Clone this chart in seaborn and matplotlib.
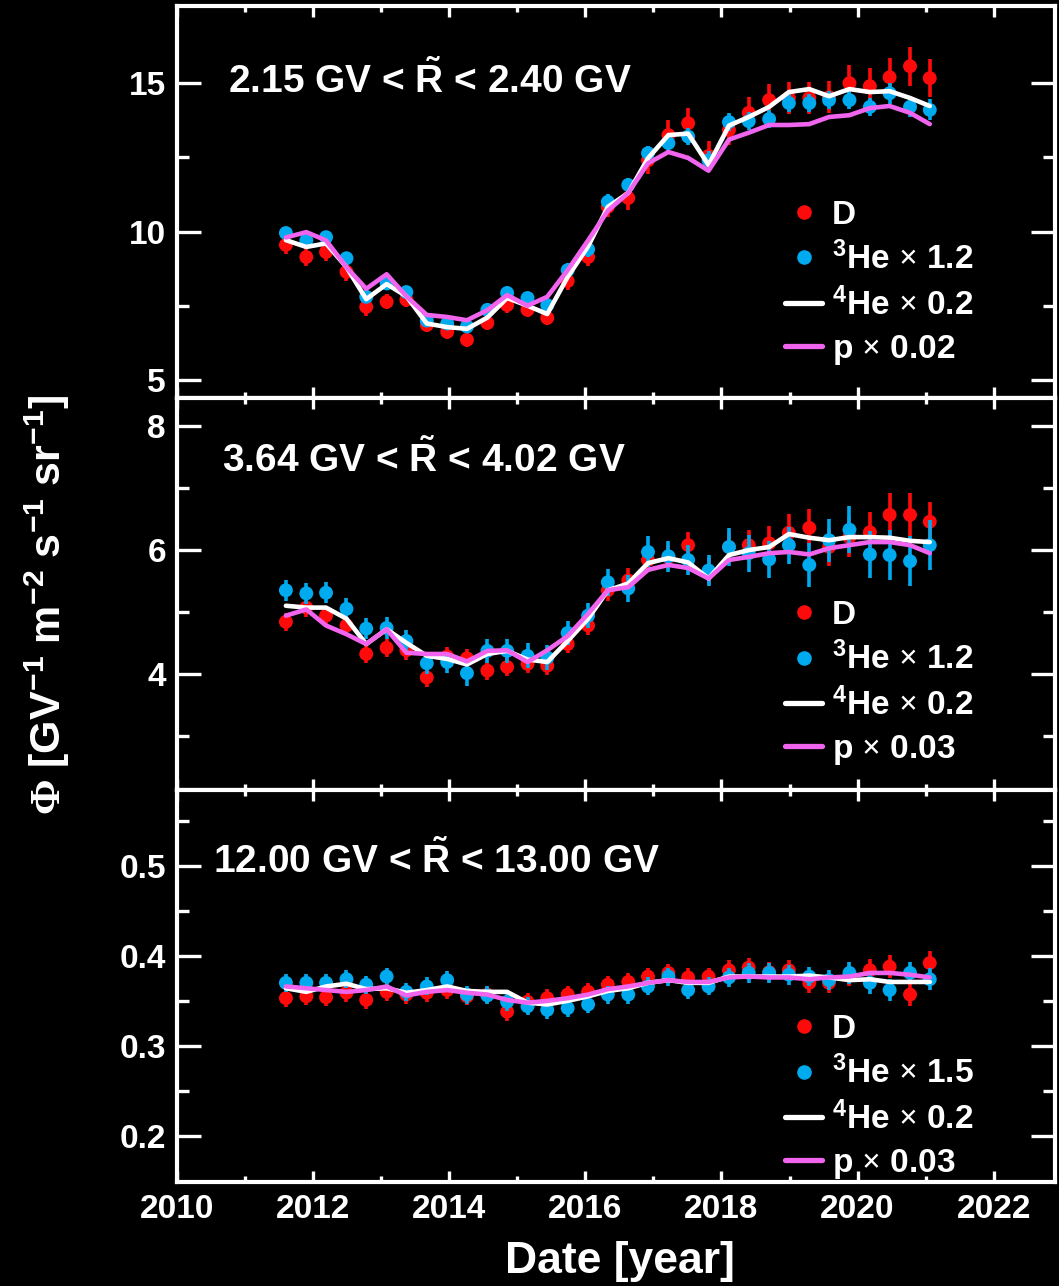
import numpy as np
import pandas as pd
import matplotlib
matplotlib.use("Agg")
import matplotlib.pyplot as plt
import seaborn as sns
from matplotlib.lines import Line2D
from matplotlib.ticker import FixedLocator, FixedFormatter

# ---------------- data ----------------
years = [2011.60, 2011.90, 2012.19, 2012.49, 2012.78, 2013.08, 2013.37, 2013.67,
         2013.97, 2014.26, 2014.56, 2014.85, 2015.15, 2015.44, 2015.74, 2016.04,
         2016.33, 2016.63, 2016.92, 2017.22, 2017.51, 2017.81, 2018.11, 2018.40,
         2018.70, 2018.99, 2019.29, 2019.58, 2019.88, 2020.18, 2020.47, 2020.77,
         2021.06]

# panel 1 : 2.15 - 2.40 GV
d1 = [9.55, 9.14, 9.31, 8.64, 7.46, 7.63, 7.70, 6.85, 6.62, 6.35, 6.92, 7.52, 7.36,
      7.09, 8.33, 9.14, 10.83, 11.13, 12.40, 13.25, 13.65, 12.55, 13.42, 14.00,
      14.43, 14.50, 14.50, 14.53, 15.00, 14.90, 15.20, 15.57, 15.17]
d1_err = [0.30, 0.30, 0.30, 0.30, 0.30, 0.25, 0.25, 0.25, 0.25, 0.25, 0.25, 0.25,
          0.25, 0.25, 0.30, 0.30, 0.35, 0.40, 0.45, 0.50, 0.50, 0.50, 0.50, 0.55,
          0.55, 0.55, 0.55, 0.55, 0.60, 0.60, 0.65, 0.65, 0.65]
he3_1 = [9.95, 9.70, 9.81, 9.10, 7.80, 8.25, 7.96, 7.00, 6.90, 6.80, 7.36, 7.93,
         7.76, 7.52, 8.70, 9.40, 11.00, 11.57, 12.64, 12.98, 13.20, 12.40, 13.69,
         13.72, 13.79, 14.33, 14.33, 14.43, 14.43, 14.20, 14.66, 14.20, 14.10]
he3_1_err = [0.20, 0.20, 0.20, 0.20, 0.20, 0.20, 0.20, 0.20, 0.20, 0.20, 0.20,
             0.20, 0.20, 0.20, 0.25, 0.25, 0.25, 0.25, 0.25, 0.30, 0.30, 0.30,
             0.30, 0.30, 0.30, 0.30, 0.30, 0.30, 0.30, 0.30, 0.35, 0.35, 0.35]
he4_1 = [9.71, 9.48, 9.60, 8.80, 7.72, 8.23, 7.82, 6.90, 6.78, 6.72, 7.10, 7.76,
         7.50, 7.22, 8.47, 9.50, 10.83, 11.30, 12.47, 13.25, 13.30, 12.24, 13.57,
         13.86, 14.20, 14.70, 14.80, 14.56, 14.80, 14.70, 14.73, 14.50, 14.23]
p_1 = [9.80, 9.98, 9.70, 8.80, 8.07, 8.56, 7.82, 7.19, 7.12, 7.01, 7.35, 7.86,
       7.50, 7.80, 8.70, 9.70, 10.70, 11.30, 12.30, 12.68, 12.48, 12.05, 13.10,
       13.33, 13.59, 13.59, 13.62, 13.86, 13.92, 14.16, 14.23, 14.00, 13.62]

# panel 2 : 3.64 - 4.02 GV
d2 = [4.84, 5.07, 4.94, 4.78, 4.32, 4.42, 4.38, 3.94, 4.28, 4.25, 4.05, 4.11, 4.16,
      4.13, 4.48, 4.78, 5.35, 5.51, 5.84, 5.89, 6.08, 5.65, 6.05, 6.08, 6.11, 6.28,
      6.36, 6.05, 6.21, 6.29, 6.57, 6.57, 6.46]
d2_err = [0.15, 0.15, 0.15, 0.15, 0.15, 0.15, 0.15, 0.15, 0.15, 0.15, 0.15, 0.15,
          0.15, 0.15, 0.15, 0.15, 0.18, 0.20, 0.20, 0.20, 0.22, 0.22, 0.25, 0.25,
          0.28, 0.30, 0.30, 0.30, 0.32, 0.32, 0.35, 0.35, 0.32]
he3_2 = [5.35, 5.30, 5.31, 5.05, 4.73, 4.74, 4.53, 4.17, 4.19, 4.01, 4.37, 4.37,
         4.29, 4.26, 4.66, 4.94, 5.48, 5.38, 5.97, 5.90, 5.84, 5.67, 6.05, 5.95,
         5.85, 6.08, 5.76, 6.16, 6.33, 5.93, 5.92, 5.82, 6.08]
he3_2_err = [0.17, 0.17, 0.17, 0.17, 0.17, 0.17, 0.17, 0.17, 0.17, 0.20, 0.20,
             0.20, 0.20, 0.20, 0.20, 0.20, 0.22, 0.22, 0.25, 0.25, 0.25, 0.25,
             0.30, 0.30, 0.30, 0.30, 0.35, 0.35, 0.38, 0.38, 0.40, 0.40, 0.40]
he4_2 = [5.10, 5.07, 5.07, 4.89, 4.48, 4.72, 4.50, 4.29, 4.24, 4.15, 4.32, 4.37,
         4.23, 4.19, 4.53, 4.89, 5.35, 5.46, 5.79, 5.87, 5.80, 5.54, 5.92, 6.00,
         6.05, 6.26, 6.20, 6.16, 6.21, 6.21, 6.20, 6.15, 6.13]
p_2 = [4.94, 5.04, 4.78, 4.64, 4.48, 4.72, 4.34, 4.32, 4.32, 4.20, 4.37, 4.38,
       4.19, 4.38, 4.61, 4.97, 5.35, 5.40, 5.68, 5.76, 5.71, 5.54, 5.84, 5.89,
       5.95, 5.97, 5.93, 6.03, 6.08, 6.13, 6.13, 6.08, 5.95]

# panel 3 : 12.00 - 13.00 GV
d3 = [0.353, 0.355, 0.354, 0.359, 0.351, 0.360, 0.357, 0.359, 0.362, 0.355, 0.357,
      0.338, 0.349, 0.353, 0.357, 0.360, 0.368, 0.371, 0.377, 0.381, 0.376, 0.377,
      0.384, 0.387, 0.382, 0.384, 0.370, 0.370, 0.378, 0.384, 0.388, 0.357, 0.392]
d3_err = [0.010, 0.010, 0.010, 0.010, 0.010, 0.010, 0.010, 0.010, 0.010, 0.010,
          0.010, 0.010, 0.010, 0.010, 0.010, 0.010, 0.010, 0.010, 0.010, 0.010,
          0.010, 0.010, 0.011, 0.011, 0.011, 0.011, 0.011, 0.011, 0.012, 0.012,
          0.013, 0.013, 0.013]
he3_3 = [0.370, 0.370, 0.370, 0.374, 0.368, 0.377, 0.360, 0.366, 0.373, 0.357,
         0.356, 0.349, 0.344, 0.340, 0.342, 0.346, 0.357, 0.357, 0.366, 0.377,
         0.362, 0.366, 0.376, 0.381, 0.381, 0.379, 0.377, 0.373, 0.381, 0.370,
         0.362, 0.381, 0.374]
he3_3_err = [0.010, 0.010, 0.010, 0.010, 0.010, 0.010, 0.010, 0.010, 0.010, 0.010,
             0.010, 0.010, 0.010, 0.010, 0.010, 0.010, 0.010, 0.010, 0.010, 0.010,
             0.010, 0.010, 0.011, 0.011, 0.011, 0.011, 0.011, 0.011, 0.012, 0.012,
             0.012, 0.012, 0.012]
he4_3 = [0.364, 0.360, 0.366, 0.369, 0.363, 0.364, 0.359, 0.362, 0.366, 0.361,
         0.360, 0.360, 0.348, 0.346, 0.350, 0.355, 0.361, 0.364, 0.370, 0.373,
         0.370, 0.370, 0.377, 0.377, 0.377, 0.377, 0.378, 0.376, 0.373, 0.374,
         0.371, 0.371, 0.371]
p_3 = [0.366, 0.364, 0.362, 0.360, 0.362, 0.366, 0.356, 0.360, 0.362, 0.359, 0.357,
       0.351, 0.348, 0.350, 0.353, 0.357, 0.363, 0.366, 0.370, 0.373, 0.371, 0.371,
       0.376, 0.377, 0.376, 0.376, 0.374, 0.376, 0.377, 0.381, 0.381, 0.379, 0.376]

titles = [r"2.15 GV < $\mathbf{\tilde{R}}$ < 2.40 GV",
          r"3.64 GV < $\mathbf{\tilde{R}}$ < 4.02 GV",
          r"12.00 GV < $\mathbf{\tilde{R}}$ < 13.00 GV"]
he3_scale = ["1.2", "1.2", "1.5"]
he4_scale = ["0.2", "0.2", "0.2"]
p_scale = ["0.02", "0.03", "0.03"]

xticks_major = [2010, 2012, 2014, 2016, 2018, 2020, 2022]
xticks_minor = [2011, 2013, 2015, 2017, 2019, 2021]
yticks_major = [[5, 10, 15], [4, 6, 8], [0.2, 0.3, 0.4, 0.5]]
yticks_minor = [[7.5, 12.5], [3, 5, 7], [0.25, 0.35, 0.45, 0.55]]
ytick_labels = [["5", "10", "15"], ["4", "6", "8"], ["0.2", "0.3", "0.4", "0.5"]]

# ---------------- style ----------------
RED = "#ff0a0a"
BLUE = "#00aaef"
MAG = "#f064ee"
WHITE = "#ffffff"

sns.set_theme(style="ticks")
plt.rcParams["font.family"] = ["Liberation Sans", "DejaVu Sans"]
plt.rcParams["font.weight"] = "bold"
plt.rcParams["mathtext.fontset"] = "custom"
plt.rcParams["mathtext.rm"] = "Liberation Serif"
plt.rcParams["mathtext.bf"] = "Liberation Sans:bold"
plt.rcParams["mathtext.it"] = "Liberation Sans:italic"
plt.rcParams["mathtext.sf"] = "Liberation Sans:bold"
plt.rcParams["axes.facecolor"] = "black"
plt.rcParams["figure.facecolor"] = "black"
plt.rcParams["savefig.facecolor"] = "black"

fig = plt.figure(figsize=(10.59, 12.86), dpi=100)

L, W = 177 / 1059, 878 / 1059
H = 392 / 1286
bottoms = [1 - 398 / 1286, 1 - 790 / 1286, 1 - 1182 / 1286]

panels = [
    dict(d=d1, de=d1_err, h3=he3_1, h3e=he3_1_err, h4=he4_1, p=p_1,
         ylim=(4.39, 17.6), tpos=(0.058, 0.811), lpos=(0.693, 0.506)),
    dict(d=d2, de=d2_err, h3=he3_2, h3e=he3_2_err, h4=he4_2, p=p_2,
         ylim=(2.12, 8.46), tpos=(0.051, 0.842), lpos=(0.693, 0.485)),
    dict(d=d3, de=d3_err, h3=he3_3, h3e=he3_3_err, h4=he4_3, p=p_3,
         ylim=(0.149, 0.584), tpos=(0.041, 0.821), lpos=(0.693, 0.429)),
]

for k, pan in enumerate(panels):
    ax = fig.add_axes([L, bottoms[k], W, H])
    ax.set_facecolor("black")
    df = pd.DataFrame({"t": years, "D": pan["d"], "De": pan["de"],
                       "He3": pan["h3"], "He3e": pan["h3e"],
                       "He4": pan["h4"], "p": pan["p"]})

    ax.errorbar(df["t"], df["D"], yerr=df["De"], fmt="none", ecolor=RED,
                elinewidth=2.6, capsize=0, zorder=2)
    sns.scatterplot(data=df, x="t", y="D", ax=ax, color=RED, s=100,
                    edgecolor="none", linewidth=0, zorder=3)
    ax.errorbar(df["t"], df["He3"], yerr=df["He3e"], fmt="none", ecolor=BLUE,
                elinewidth=2.6, capsize=0, zorder=4)
    sns.scatterplot(data=df, x="t", y="He3", ax=ax, color=BLUE, s=100,
                    edgecolor="none", linewidth=0, zorder=4)
    sns.lineplot(data=df, x="t", y="He4", ax=ax, color=WHITE, lw=3.3,
                 estimator=None, zorder=5)
    sns.lineplot(data=df, x="t", y="p", ax=ax, color=MAG, lw=3.3,
                 estimator=None, zorder=6)

    ax.set_xlim(2010, 2022.9)
    ax.set_ylim(*pan["ylim"])
    ax.set_xlabel("")
    ax.set_ylabel("")

    ax.xaxis.set_major_locator(FixedLocator(xticks_major))
    ax.xaxis.set_minor_locator(FixedLocator(xticks_minor))
    ax.yaxis.set_major_locator(FixedLocator(yticks_major[k]))
    ax.yaxis.set_major_formatter(FixedFormatter(ytick_labels[k]))
    ax.yaxis.set_minor_locator(FixedLocator(yticks_minor[k]))

    ax.tick_params(axis="both", which="both", direction="in", top=True,
                   right=True, colors="white", width=2.4, labelsize=24)
    ax.tick_params(axis="x", which="major", length=8, pad=9)
    ax.tick_params(axis="x", which="minor", length=4)
    ax.tick_params(axis="y", which="major", length=17, pad=8)
    ax.tick_params(axis="y", which="minor", length=8.5)
    if k < 2:
        ax.tick_params(axis="x", which="both", labelbottom=False)
    for lbl in ax.get_xticklabels() + ax.get_yticklabels():
        lbl.set_fontweight("bold")
        lbl.set_color("white")

    for s in ax.spines.values():
        s.set_color("white")
        s.set_linewidth(3)

    ax.text(pan["tpos"][0], pan["tpos"][1], titles[k], transform=ax.transAxes,
            color="white", fontsize=28, fontweight="bold", ha="left", va="center")

    handles = [
        Line2D([], [], marker="o", linestyle="none", markerfacecolor=RED,
               markeredgecolor="none", markersize=10.5),
        Line2D([], [], marker="o", linestyle="none", markerfacecolor=BLUE,
               markeredgecolor="none", markersize=10.5),
        Line2D([], [], color=WHITE, lw=3.8),
        Line2D([], [], color=MAG, lw=3.8),
    ]
    labels = ["D",
              r"$^{\mathbf{3}}$He $\times$ " + he3_scale[k],
              r"$^{\mathbf{4}}$He $\times$ " + he4_scale[k],
              r"p $\times$ " + p_scale[k]]
    leg = ax.legend(handles, labels, loc="upper left",
                    bbox_to_anchor=pan["lpos"], frameon=False, fontsize=24,
                    handlelength=1.1, handletextpad=0.3, labelspacing=0.33,
                    borderpad=0, borderaxespad=0)
    for txt in leg.get_texts():
        txt.set_color("white")
        txt.set_fontweight("bold")

fig.text(620 / 1059, 1 - 1262 / 1286, "Date [year]", color="white",
         fontsize=32, fontweight="bold", ha="center", va="center")
fig.text(47 / 1059, 1 - 605 / 1286,
         r"$\mathrm{\Phi}$ [GV$^{\mathbf{-1}}$ m$^{\mathbf{-2}}$ s$^{\mathbf{-1}}$ sr$^{\mathbf{-1}}$]",
         color="white", fontsize=31, fontweight="bold", rotation=90,
         ha="center", va="center")

fig.savefig("out.png", dpi=100, facecolor="black")
